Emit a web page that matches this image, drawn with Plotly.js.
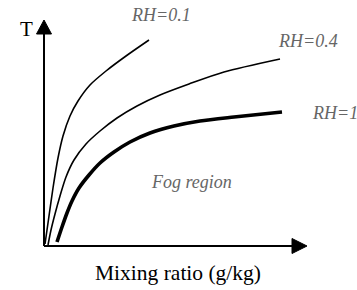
<!DOCTYPE html>
<html>
<head>
<meta charset="utf-8">
<script src="https://cdn.plot.ly/plotly-3.0.1.min.js"></script>
<style>html,body{margin:0;padding:0;background:#fff;}#chart{width:357px;height:290px;}</style>
</head>
<body>
<div id="chart"></div>
<script>
// Schematic curves (arbitrary units: mixing ratio vs temperature)
const rh01X = [1, 5, 9, 14, 19, 26, 34, 46, 62, 82, 105];
const rh01Y = [2, 30, 58, 88, 110, 130, 145, 161, 175, 190, 206];
const rh04X = [4, 7, 11, 16, 22, 30, 42, 56, 73, 93, 116, 145, 180, 236];
const rh04Y = [1, 16, 32, 50, 69, 86, 102, 115, 128, 140, 151, 162, 174, 187];
const rh1X = [13, 18, 23, 28, 35, 45, 56, 70, 86, 106, 130, 156, 190, 238];
const rh1Y = [4, 19, 33, 45, 58, 71, 83, 94, 104, 113, 120, 125, 129, 134];
const seriesNames = ["RH=0.1", "RH=0.4", "RH=1"];
const regionLabel = "Fog region";
const xTitle = "Mixing ratio (g/kg)";
const yTitle = "T";

const thin = {color: "#000", width: 1.6, shape: "spline", smoothing: 0.8};
const traces = [
  {x: rh01X, y: rh01Y, mode: "lines", line: thin, name: seriesNames[0], hoverinfo: "skip"},
  {x: rh04X, y: rh04Y, mode: "lines", line: thin, name: seriesNames[1], hoverinfo: "skip"},
  {x: rh1X, y: rh1Y, mode: "lines", line: {color: "#000", width: 3.6, shape: "spline", smoothing: 0.8}, name: seriesNames[2], hoverinfo: "skip"}
];

const serif = "Liberation Serif, Times New Roman, serif";
const labFont = {family: serif, size: 18, color: "#666", style: "italic"};
function lab(text, x, y) {
  return {text: "<i>" + text + "</i>", x: x, y: y, xref: "x", yref: "y", showarrow: false, font: labFont, xanchor: "center", yanchor: "middle"};
}
const annotations = [
  lab(seriesNames[0], 117, 231),
  lab(seriesNames[1], 264, 205),
  lab(seriesNames[2], 291, 133),
  lab(regionLabel, 147, 64),
  {text: yTitle, x: -18, y: 217, xref: "x", yref: "y", showarrow: false, xanchor: "center", yanchor: "middle",
   font: {family: serif, size: 21, color: "#000"}},
  {text: xTitle, x: 134, y: -27, xref: "x", yref: "y", showarrow: false, xanchor: "center", yanchor: "middle",
   font: {family: serif, size: 21.5, color: "#000"}}
];

const shapes = [
  {type: "line", xref: "x", yref: "y", x0: 0, y0: 0, x1: 0, y1: 214, line: {color: "#000", width: 2}},
  {type: "path", xref: "x", yref: "y", path: "M -7.5,212 L 7.5,212 L 0,226 Z", fillcolor: "#000", line: {color: "#000", width: 1}},
  {type: "line", xref: "x", yref: "y", x0: 0, y0: 0, x1: 250, y1: 0, line: {color: "#000", width: 2}},
  {type: "path", xref: "x", yref: "y", path: "M 248,-7.5 L 248,7.5 L 263,0 Z", fillcolor: "#000", line: {color: "#000", width: 1}}
];

const layout = {
  width: 357, height: 290,
  margin: {l: 0, r: 0, t: 0, b: 0, pad: 0},
  paper_bgcolor: "#fff", plot_bgcolor: "#fff",
  showlegend: false,
  xaxis: {range: [-44, 313], visible: false, fixedrange: true},
  yaxis: {range: [-44, 246], visible: false, fixedrange: true},
  annotations: annotations,
  shapes: shapes
};
Plotly.newPlot("chart", traces, layout, {staticPlot: true, displayModeBar: false});
</script>
</body>
</html>
